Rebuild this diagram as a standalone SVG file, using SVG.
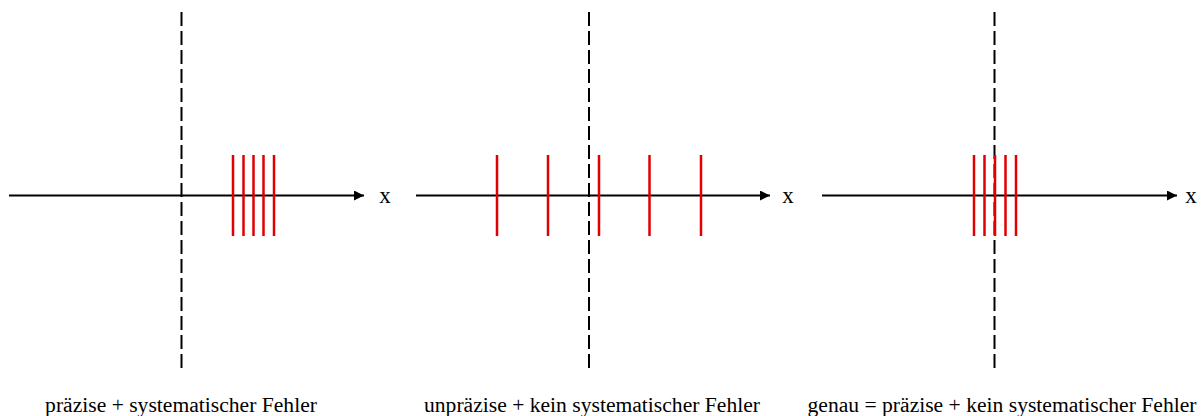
<svg xmlns="http://www.w3.org/2000/svg" width="1203" height="416" viewBox="0 0 1203 416">
<style>
.axis{stroke:#000;stroke-width:2;fill:none}
.ref{stroke:#000;stroke-width:2;stroke-dasharray:14 5;fill:none}
.tick{stroke:#e00000;stroke-width:2.5;fill:none}
.lbl{font-family:"Liberation Serif","Times New Roman",serif;font-size:21.6px;fill:#000}
.xl{font-family:"Liberation Serif","Times New Roman",serif;font-size:23px;fill:#000}
</style>
<defs>
<marker id="arr" viewBox="0 0 10 10" refX="10" refY="5" markerWidth="10" markerHeight="10" markerUnits="userSpaceOnUse" orient="auto">
<path d="M0,0 L10,5 L0,10 Z" fill="#000"/>
</marker>
</defs>
<rect width="1203" height="416" fill="#fff"/>
<g id="connectors">
<line class="axis" x1="9" y1="195.5" x2="364" y2="195.5" marker-end="url(#arr)"/>
<line class="axis" x1="416" y1="195.5" x2="770" y2="195.5" marker-end="url(#arr)"/>
<line class="axis" x1="822" y1="195.5" x2="1177" y2="195.5" marker-end="url(#arr)"/>
</g>
<g id="panel1">
<line class="ref" x1="181.5" y1="12" x2="181.5" y2="368"/>
<line class="tick" x1="233" y1="155" x2="233" y2="236"/>
<line class="tick" x1="243.5" y1="155" x2="243.5" y2="236"/>
<line class="tick" x1="253.5" y1="155" x2="253.5" y2="236"/>
<line class="tick" x1="263.5" y1="155" x2="263.5" y2="236"/>
<line class="tick" x1="274" y1="155" x2="274" y2="236"/>
<text class="xl" x="385" y="203" text-anchor="middle">x</text>
<text class="lbl" x="181" y="411.5" text-anchor="middle">präzise + systematischer Fehler</text>
</g>
<g id="panel2">
<line class="ref" x1="589" y1="12" x2="589" y2="368"/>
<line class="tick" x1="497" y1="155" x2="497" y2="236"/>
<line class="tick" x1="548" y1="155" x2="548" y2="236"/>
<line class="tick" x1="599" y1="155" x2="599" y2="236"/>
<line class="tick" x1="649.5" y1="155" x2="649.5" y2="236"/>
<line class="tick" x1="701" y1="155" x2="701" y2="236"/>
<text class="xl" x="788" y="203" text-anchor="middle">x</text>
<text class="lbl" x="592" y="411.5" text-anchor="middle">unpräzise + kein systematischer Fehler</text>
</g>
<g id="panel3">
<line class="ref" x1="994.5" y1="12" x2="994.5" y2="368"/>
<line class="tick" x1="974" y1="155" x2="974" y2="236"/>
<line class="tick" x1="984.5" y1="155" x2="984.5" y2="236"/>
<line class="tick" x1="995" y1="155" x2="995" y2="236"/>
<line class="tick" x1="1005.5" y1="155" x2="1005.5" y2="236"/>
<line class="tick" x1="1016" y1="155" x2="1016" y2="236"/>
<text class="xl" x="1191" y="203" text-anchor="middle">x</text>
<text class="lbl" x="1002" y="411.5" text-anchor="middle">genau = präzise + kein systematischer Fehler</text>
</g>
</svg>
